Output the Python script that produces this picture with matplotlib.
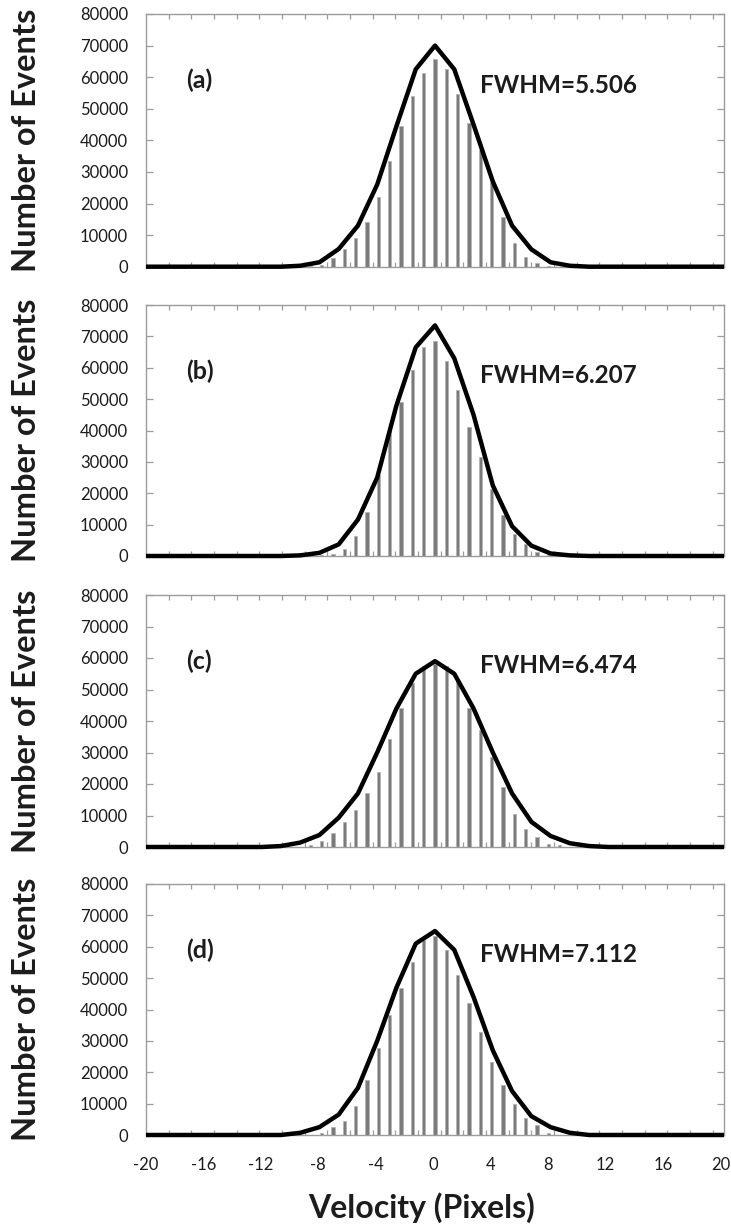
import numpy as np
import matplotlib
matplotlib.use("Agg")
import matplotlib.pyplot as plt
from matplotlib.ticker import FixedLocator, NullFormatter

plt.rcParams['font.family'] = ['Lato', 'DejaVu Sans']
plt.rcParams['axes.unicode_minus'] = False

# ---------------------------------------------------------------- data
X_MIN, X_MAX = -20, 20
N_BINS = 51          # histogram categories spanning the velocity axis
N_FIT = 31           # points of the fitted curve spanning the velocity axis

panel_tags = ["(a)", "(b)", "(c)", "(d)"]
fwhm_labels = ["FWHM=5.506", "FWHM=6.207", "FWHM=6.474", "FWHM=7.112"]

# histogram bins that hold events (index relative to the central bin)
bar_index = np.arange(-12, 13)

counts_a = [0, 300, 500, 2800, 5600, 9100, 14300, 22100, 33500, 44600, 54100, 61400,
            65600, 62700, 54600, 45600, 37000, 26800, 15700, 7400, 3200, 1200, 300, 0, 0]
counts_b = [0, 0, 300, 500, 2100, 6300, 14000, 25700, 40000, 49000, 59400, 66700,
            68600, 62000, 53000, 41000, 31700, 21200, 13000, 6900, 3700, 1400, 300, 0, 0]
counts_c = [0, 600, 1900, 4600, 8000, 11700, 17000, 23700, 34400, 44000, 52000, 57500,
            58000, 57500, 53000, 44000, 37000, 28500, 19000, 10600, 5600, 3200, 1100, 600, 0]
counts_d = [0, 0, 700, 2500, 4500, 9300, 17400, 27600, 38400, 47000, 55000, 62000,
            63500, 59000, 51000, 42000, 32900, 23400, 16000, 9800, 5500, 3100, 700, 0, 0]

# fitted curve, one value per fit point from -20 to 20
fit_a = [0, 0, 0, 0, 0, 0, 0, 0, 300, 1400, 5600, 13000, 26000, 44500, 62500,
         70000, 62500, 45000, 27000, 13000, 5500, 1400, 300, 0, 0, 0, 0, 0, 0, 0, 0]
fit_b = [0, 0, 0, 0, 0, 0, 0, 0, 200, 1000, 3700, 11600, 25000, 48000, 66500,
         73500, 63000, 45000, 22500, 9500, 3300, 800, 200, 0, 0, 0, 0, 0, 0, 0, 0]
fit_c = [0, 0, 0, 0, 0, 0, 0, 300, 1400, 3800, 9300, 17000, 30000, 44000, 55000,
         59000, 55000, 44000, 30000, 17000, 8000, 3500, 1200, 300, 0, 0, 0, 0, 0, 0, 0]
fit_d = [0, 0, 0, 0, 0, 0, 0, 0, 700, 2500, 6500, 15000, 30000, 47000, 61000,
         65000, 59000, 44000, 27000, 14000, 6000, 2500, 700, 0, 0, 0, 0, 0, 0, 0, 0]

bar_counts = [counts_a, counts_b, counts_c, counts_d]
fit_counts = [fit_a, fit_b, fit_c, fit_d]

y_ticks = [0, 10000, 20000, 30000, 40000, 50000, 60000, 70000, 80000]
x_ticks = [-20, -16, -12, -8, -4, 0, 4, 8, 12, 16, 20]

# ---------------------------------------------------------------- layout
W, H = 731, 1230
fig = plt.figure(figsize=(W / 100, H / 100), dpi=100)

# (top, bottom) of each plot frame in pixels
frames = [(14, 266.7), (305, 556), (595, 847), (884, 1135)]
left_px, right_px = 146, 724
label_right_px = 720.5   # velocity labels run slightly short of the frame

bin_w = (X_MAX - X_MIN) / N_BINS
bar_x = bar_index * bin_w
fit_x = np.linspace(X_MIN, X_MAX, N_FIT)
cat_ticks = X_MIN + np.arange(2, N_BINS, 2) * bin_w

frame_col = "#9c9c9c"
text_col = "#1c1c1c"

for i, (top, bot) in enumerate(frames):
    ax = fig.add_axes([left_px / W, 1 - bot / H,
                       (right_px - left_px) / W, (bot - top) / H])
    ax.bar(bar_x, bar_counts[i], width=0.24, color="#7b7b7b",
           edgecolor="#b4b4b4", linewidth=0.6, zorder=2)
    ax.plot(fit_x, fit_counts[i], color="black", lw=3.2,
            solid_joinstyle="round", solid_capstyle="butt", zorder=3,
            clip_on=False)

    ax.set_xlim(X_MIN, X_MAX)
    ax.set_ylim(0, 80000)

    for s in ax.spines.values():
        s.set_color(frame_col)
        s.set_linewidth(1.0)

    ax.yaxis.set_major_locator(FixedLocator(y_ticks))
    ax.tick_params(axis="y", which="major", direction="in", length=5,
                   width=0.9, color=frame_col, left=True, right=True,
                   labelsize=12, labelcolor=text_col, pad=13)

    ax.xaxis.set_major_locator(FixedLocator([]))
    ax.xaxis.set_minor_locator(FixedLocator(cat_ticks))
    ax.xaxis.set_minor_formatter(NullFormatter())
    ax.tick_params(axis="x", which="minor", direction="in", length=3.5,
                   width=0.9, color=frame_col, bottom=True, top=True)

    ax.text(-17.2, 59000, panel_tags[i], fontsize=18, fontweight="bold",
            color=text_col, va="center", ha="left")
    ax.text(3.1, 57500, fwhm_labels[i], fontsize=17.5, fontweight="bold",
            color=text_col, va="center", ha="left")

    fig.text(27 / W, 1 - (top + bot) / 2 / H, "Number of Events",
             rotation=90, fontsize=23.5, fontweight="bold", color=text_col,
             ha="center", va="center")

# velocity labels under the bottom panel
lab_ax = fig.add_axes([left_px / W, 1 - frames[-1][1] / H,
                       (label_right_px - left_px) / W, 0.0001])
lab_ax.set_xlim(X_MIN, X_MAX)
lab_ax.patch.set_visible(False)
for s in lab_ax.spines.values():
    s.set_visible(False)
lab_ax.set_yticks([])
lab_ax.xaxis.set_major_locator(FixedLocator(x_ticks))
lab_ax.tick_params(axis="x", length=0, labelsize=12, labelcolor=text_col,
                   pad=16)

fig.text(422 / W, 1 - 1208 / H, "Velocity (Pixels)", fontsize=23,
         fontweight="bold", color=text_col, ha="center", va="center")

fig.savefig("out.png", dpi=100)
